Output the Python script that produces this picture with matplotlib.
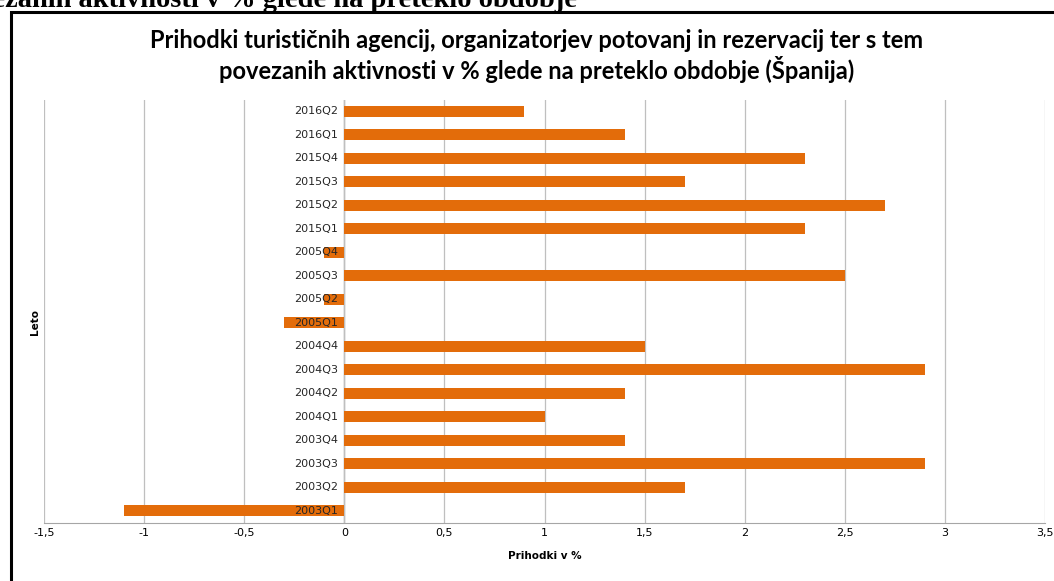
import matplotlib
matplotlib.use("Agg")
import matplotlib.pyplot as plt
from matplotlib.patches import Rectangle

# top to bottom, as in the chart
quarters = ["2016Q2", "2016Q1", "2015Q4", "2015Q3", "2015Q2", "2015Q1",
            "2005Q4", "2005Q3", "2005Q2", "2005Q1", "2004Q4", "2004Q3",
            "2004Q2", "2004Q1", "2003Q4", "2003Q3", "2003Q2", "2003Q1"]
values = [0.9, 1.4, 2.3, 1.7, 2.7, 2.3,
          -0.1, 2.5, -0.1, -0.3, 1.5, 2.9,
          1.4, 1.0, 1.4, 2.9, 1.7, -1.1]
xticks = [-1.5, -1, -0.5, 0, 0.5, 1, 1.5, 2, 2.5, 3, 3.5]

BAR_C = "#E36C0A"
GRID_C = "#BFBFBF"
W, H = 1054, 581

fig = plt.figure(figsize=(W / 100, H / 100), dpi=100)

# cut-off heading of the surrounding document (top half lies above the page)
fig.text(577 / W, 1 - 7 / H, "povezanih aktivnosti v % glede na preteklo obdobje",
         family="Liberation Serif", weight="bold", fontsize=20.5,
         ha="right", va="baseline")

# chart frame
fig.patches.append(Rectangle((10.5 / W, -0.01), 1.0, 1 - 12.5 / H + 0.01,
                             transform=fig.transFigure, fill=False,
                             edgecolor="black", lw=2.2))

ax = fig.add_axes([44 / W, 1 - 522.5 / H, 1001 / W, 423 / H])
pos = list(range(len(quarters)))[::-1]
ax.barh(pos, values, height=0.45, color=BAR_C, zorder=2)

ax.set_xlim(-1.5, 3.5)
ax.set_ylim(-0.5, len(quarters) - 0.5)
ax.set_xticks(xticks)
ax.set_xticklabels([f"{t:g}".replace(".", ",") for t in xticks], fontsize=8)
ax.tick_params(axis="x", length=0, pad=4)
ax.set_yticks([])
ax.grid(axis="x", color=GRID_C, lw=0.9, zorder=0)
for s in ("top", "right", "left"):
    ax.spines[s].set_visible(False)
ax.spines["bottom"].set_color("#A6A6A6")
ax.axvline(0, color="#A6A6A6", lw=1.0, zorder=1)

for p, q in zip(pos, quarters):
    ax.text(-0.03, p, q, ha="right", va="center", fontsize=8,
            color="#262626", zorder=3)

ax.set_xlabel("Prihodki v %", fontsize=7.5, weight="bold", labelpad=9)
fig.text(35 / W, 1 - 322 / H, "Leto", rotation=90, fontsize=7.5,
         weight="bold", ha="center", va="center")

title_kw = dict(ha="center", va="center", fontsize=17, family="Lato",
                weight="bold", color="black")
fig.text(537 / W, 1 - 40 / H,
         "Prihodki turističnih agencij, organizatorjev potovanj in rezervacij ter s tem",
         **title_kw)
fig.text(537 / W, 1 - 70 / H,
         "povezanih aktivnosti v % glede na preteklo obdobje (Španija)",
         **title_kw)

fig.savefig("out.png", dpi=100)
